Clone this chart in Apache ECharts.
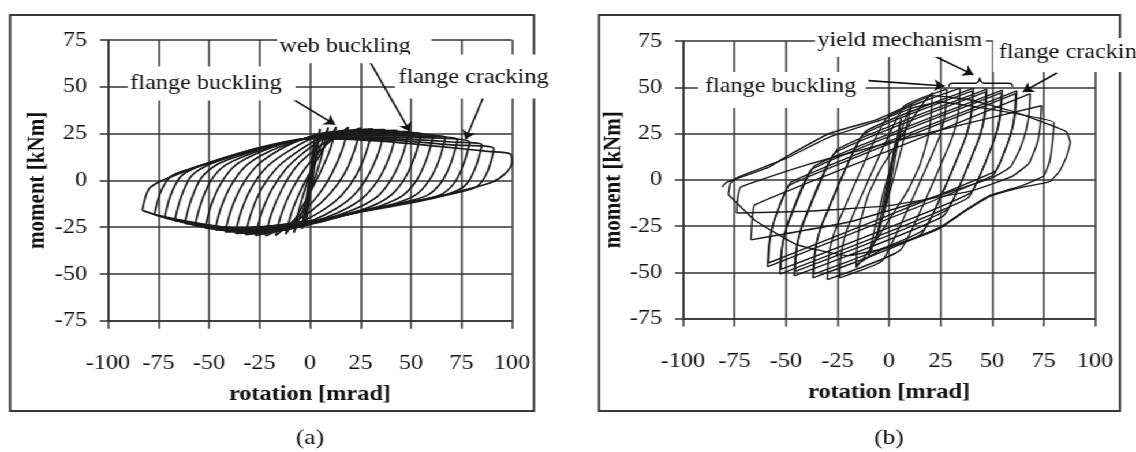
<!DOCTYPE html>
<html>
<head>
<meta charset="utf-8">
<script src="https://cdn.jsdelivr.net/npm/echarts@6/dist/echarts.min.js"></script>
<style>
  html, body { margin: 0; padding: 0; background: #fff; overflow: hidden; }
  #wrap { width: 1136px; height: 452px; overflow: hidden; position: relative; background: #fff; }
  /* the printed figure is slightly wider than tall in its glyphs: stretch the drawing horizontally */
  #chart { width: 984px; height: 452px; transform: scaleX(1.1545); transform-origin: 0 0; }
</style>
</head>
<body>
<div id="wrap"><div id="chart"></div></div>
<script>
// ---------- axes ----------
const rotationTicks = [-100, -75, -50, -25, 0, 25, 50, 75, 100];   // mrad
const momentTicks = [-75, -50, -25, 0, 25, 50, 75];                // kNm

// ---------- specimen (a): hysteresis loops, [rotation mrad, moment kNm] ----------
const loopsA = [
  [[-1,-14],[0,-2],[1,10],[2,20],[1,8],[0,-4],[-1,-14]],
  [[-2,-24],[-1,-10],[0.5,6],[2.5,25],[1.5,10],[0,-8],[-2,-24]],
  [[-4,-26],[-2.5,-14],[-0.5,-1],[2,13],[5,27.5],[3.5,15.5],[1.5,2],[-1,-12],[-4,-26]],
  [[-8,-28],[-5.5,-16],[-2,-3],[3,12],[9,28.3],[6.5,16],[3,3],[-2,-12],[-8,-28]],
  [[-12,-28.8],[-9,-16.8],[-4,-4],[2,8],[8,19.5],[13,28.6],[10,16.6],[5,4],[-1,-8.5],[-7,-20],[-12,-28.8]],
  [[-17,-29.5],[-14,-17.5],[-9,-5],[-2,7],[7,18],[19,28.5],[16,16.5],[11,4],[4,-8],[-6,-19.5],[-17,-29.5]],
  [[-22,-29.7],[-19,-17.5],[-14,-5],[-7,7],[2,16],[12,23],[25,28],[22,16],[17,3.5],[10,-7],[1,-16],[-10,-23.5],[-22,-29.7]],
  [[-27,-29.5],[-24,-17.5],[-19,-5],[-12,6],[-3,15],[8,23],[19,26.5],[31,27.6],[28,15.6],[23,3],[16,-7.5],[7,-15.5],[-4,-22],[-15,-26.5],[-27,-29.5]],
  [[-32,-29],[-29,-17],[-24,-4.5],[-17,6],[-8,14],[3,21.5],[16,26.5],[37,27.2],[34,15.2],[29,3],[22,-7.5],[13,-15],[1,-21.5],[-13,-26.5],[-32,-29]],
  [[-37,-28.3],[-34,-16.3],[-29,-4],[-22,6.5],[-13,14],[0,22],[15,26.3],[30,26.6],[43,26.7],[40,14.7],[35,2.5],[28,-7.5],[19,-14.5],[5,-21],[-12,-26.3],[-25,-27.8],[-37,-28.3]],
  [[-42,-27.5],[-39,-15.5],[-34,-3.5],[-27,7],[-18,14.5],[-5,21.5],[10,25.8],[30,26.3],[49,26],[46,14],[41,2],[34,-8],[24,-14.5],[10,-20],[-8,-25.5],[-25,-27.5],[-42,-27.5]],
  [[-47,-26.5],[-44,-14.5],[-39,-2.5],[-32,7.5],[-22,14.5],[-8,20.5],[10,25.5],[35,25.8],[55,25.2],[52,13.2],[47,1.2],[40,-8],[30,-14],[15,-19],[-5,-24.5],[-30,-27],[-47,-26.5]],
  [[-52,-25.5],[-49,-13.5],[-44,-1.5],[-37,8],[-26,14.5],[-10,20.5],[10,24.5],[40,25],[61,24.2],[58,12.2],[53,0.5],[46,-8],[35,-13.5],[20,-17.8],[0,-23.3],[-30,-26.8],[-52,-25.5]],
  [[-57,-24.3],[-54,-12.3],[-49,0],[-42,8],[-30,14],[-12,20],[10,24.2],[40,24.5],[67,23.2],[64,11.2],[59,0],[52,-8],[40,-13],[22,-17.3],[0,-22.8],[-30,-26.5],[-57,-24.3]],
  [[-62,-23],[-59,-11],[-54,1],[-46,8.5],[-34,13.5],[-15,19.5],[10,23.8],[45,23.8],[73,22],[70,10],[65,-1],[58,-8],[45,-12],[25,-16.5],[0,-22.5],[-30,-26.3],[-62,-23]],
  [[-67,-21.5],[-64,-9.5],[-59,2],[-51,8],[-38,13],[-18,19],[8,23.3],[45,23],[79,20.5],[76,8.5],[71,-2],[64,-8],[50,-11.5],[28,-16],[0,-22],[-35,-25.5],[-67,-21.5]],
  [[-72,-20],[-69,-8],[-64,2],[-56,7],[-42,12],[-20,18.5],[5,23],[45,22],[70,20.5],[85,19],[82,7],[77,-2.5],[69,-7],[55,-10.5],[30,-15.5],[0,-21.8],[-35,-25.5],[-72,-20]],
  [[-77,-18.3],[-74,-6.5],[-69,2],[-60,6],[-46,10.5],[-24,17.5],[2,22.5],[40,21.5],[70,19],[91,17],[88,5],[83,-3],[75,-6],[60,-9.5],[35,-14.5],[5,-21],[-35,-25.5],[-77,-18.3]],
  [[-83,-16],[-80,-5],[-75,-1],[-65,3.5],[-50,9.5],[-25,17.5],[0,22.5],[35,21],[65,18],[88,15.5],[99,14.2],[100,10],[97,4],[90,-1],[75,-5.5],[59,-10],[40,-14],[20,-18],[0,-23.5],[-25,-28],[-50,-25.5],[-70,-20.5],[-83,-16]]
];

// ---------- specimen (b): hysteresis loops, [rotation mrad, moment kNm] ----------
const loopsB = [
  // elastic cycles
  [[-3,-18],[-1,-6],[1,8],[3,20],[1.5,8],[-0.5,-5],[-3,-18]],
  [[-6,-32],[-3.5,-16],[0,2],[3,18],[6,34],[4,18],[1,0],[-2.5,-18],[-6,-32]],
  [[-10,-42],[-7,-27],[-3,-8],[2,12],[7,30],[11,41],[8,26],[4,8],[-1,-12],[-6,-30],[-10,-42]],
  // post-yield cycles
  [[-16,-47.5],[-15.5,-36],[-14,-23],[-10,-8],[-4,6],[4,20],[12,34],[17,42],[21,47],[20.5,36],[19,23],[15,8],[9,-6],[1,-20],[-7,-34],[-12,-42],[-16,-47.5]],
  [[-24,-53],[-23.5,-43],[-22,-33],[-19,-23],[7.1,39.6],[28,49],[27.5,39],[26,29],[23,19],[-3.1,-43.6],[-24,-53]],
  [[-30,-54],[-29.5,-44],[-28,-34],[-25,-24],[-1,33.6],[34.5,49.5],[34,39.5],[32.5,29.5],[29.5,19.5],[5.5,-38],[-30,-54]],
  [[-37,-53],[-36.5,-43],[-35,-33],[-32,-23],[-11.7,25.8],[41,49.5],[40.5,39.5],[39,29.5],[36,19.5],[15.7,-29.3],[-37,-53]],
  [[-36.5,-51],[-36,-41],[-34.5,-31],[-31.5,-21],[-12.7,24.1],[40.5,48],[40,38],[38.5,28],[35.5,18],[16.7,-27.1],[-36.5,-51]],
  [[-46,-52],[-45.5,-42],[-44,-32],[-41,-22],[-25,16.4],[47.5,49],[47,39],[45.5,29],[42.5,19],[26.5,-19.4],[-46,-52]],
  [[-45.5,-49.5],[-45,-39.5],[-43.5,-29.5],[-40.5,-19.5],[-26.3,14.5],[47,47.5],[46.5,37.5],[45,27.5],[42,17.5],[27.8,-16.5],[-45.5,-49.5]],
  [[-53,-51],[-52.5,-41],[-51,-31],[-48,-21],[-36.1,7.5],[55,48.5],[54.5,38.5],[53,28.5],[50,18.5],[38.1,-10],[-53,-51]],
  [[-52.5,-48.5],[-52,-38.5],[-50.5,-28.5],[-47.5,-18.5],[-37.4,5.7],[54.5,47],[54,37],[52.5,27],[49.5,17],[39.4,-7.2],[-52.5,-48.5]],
  [[-59,-47],[-58.5,-37],[-57,-27],[-54,-17],[-47.4,-1.2],[62,48],[61.5,38],[60,28],[57,18],[50.4,2.3],[-59,-47]],
  [[-58.5,-45],[-58,-35],[-56.5,-25],[-53.5,-15],[-48.5,-3],[61.5,46.5],[61,36.5],[59.5,26.5],[56.5,16.5],[51.5,4.5],[-58.5,-45]],
  [[-67,-32.5],[-66.5,-22.5],[-65.2,-13.6],[0,15.7],[68.5,46.5],[68,36.5],[66.5,26.5],[63.5,16.5],[59,7],[50,1],[20,-10],[-20,-23],[-67,-32.5]],
  [[-74,-18],[-73.5,-10],[-72,-4],[-40,8],[0,20],[40,31],[74,40],[73.5,30],[72,20],[68,9],[60,2],[40,-6],[0,-14],[-40,-17],[-74,-18]],
  [[-78,-8],[-77,-2],[-74,1],[-50,11.5],[-29,23],[-6,31.5],[12,39],[25,42],[50,38],[80,31],[79.5,22],[78,10],[75,2],[65,-3],[49,-8.5],[37,-16.5],[25,-25.5],[12,-31.5],[-4,-37.5],[-20,-41],[-45,-35],[-65,-22],[-78,-8]],
  [[-81,-4],[-79,-1.5],[-74,0.5],[-58,7],[-50,12.4],[-29,25],[-6,32.5],[12,41.5],[21,45.5],[40,43],[60,37],[75,31],[86,26],[88,20],[86,12],[83,5],[78,-1],[65,-4],[49,-9],[37,-17],[25,-26],[12,-32],[-4,-38],[-16,-46]]
];

// ---------- annotations (data coordinates) ----------
const arrowsA = [
  [[-11, 45], [12.4, 29.8]],
  [[29, 64.6], [49.5, 26]],
  [[86, 45], [77, 21.8]]
];
const arrowsB = [
  [[-10, 53.6], [27, 50.7]],
  [[15.9, 70.1], [41, 56.7]],
  [[81.5, 57.7], [65, 47.5]]
];
const braceB = [[29,50.2],[29.4,51.6],[31,52.2],[42,52.2],[43.4,53.2],[44,55],[44.6,53.2],[46,52.2],[58,52.2],[59.6,51.6],[60,50.2]];

// label boxes: top-left corner in data coords, padding [top, right, bottom, left] in px
const notesA = [
  { text: 'flange buckling', at: [-90.1, 60.9], pad: [6, 12, 6, 2] },
  { text: 'web buckling',    at: [-16.3, 80.7], pad: [6, 18, 6, 2] },
  { text: 'flange cracking', at: [42.1, 67.3],  pad: [12, 10, 10, 3] }
];
const notesB = [
  { text: 'flange buckling', at: [-92.7, 58.3], pad: [4, 8, 10, 6] },
  { text: 'yield mechanism', at: [-35.9, 84.7], pad: [6, 3, 6, 2] },
  { text: 'flange cracking', at: [50.5, 76.6],  pad: [3, 40, 9, 5] }
];

// ---------- styling ----------
const SERIF = '"Liberation Serif", "Times New Roman", serif';
const INK = '#111';
const GRIDC = '#333';
const FS = 21;

const chart = echarts.init(document.getElementById('chart'), null, { renderer: 'canvas', devicePixelRatio: 1 });

function xAxis(gi, gap) {
  return {
    gridIndex: gi, type: 'value',
    min: rotationTicks[0], max: rotationTicks[rotationTicks.length - 1],
    interval: rotationTicks[1] - rotationTicks[0],
    axisLine: { show: true, onZero: false, lineStyle: { color: GRIDC, width: 1.6 } },
    axisTick: { show: true, inside: false, length: 8, lineStyle: { color: GRIDC, width: 1.5 } },
    axisLabel: { color: INK, fontFamily: SERIF, fontSize: FS, margin: 32 },
    splitLine: { show: true, lineStyle: { color: GRIDC, width: 1.5 } },
    name: 'rotation [mrad]', nameLocation: 'middle', nameGap: gap, nameMoveOverlap: false,
    nameTextStyle: { color: INK, fontFamily: SERIF, fontSize: FS, fontWeight: 'bold' }
  };
}
function yAxis(gi) {
  return {
    gridIndex: gi, type: 'value',
    min: momentTicks[0], max: momentTicks[momentTicks.length - 1],
    interval: momentTicks[1] - momentTicks[0],
    axisLine: { show: true, onZero: false, lineStyle: { color: GRIDC, width: 1.6 } },
    axisTick: { show: true, inside: false, length: 7, lineStyle: { color: GRIDC, width: 1.5 } },
    axisLabel: { color: INK, fontFamily: SERIF, fontSize: FS, margin: 18 },
    splitLine: { show: true, lineStyle: { color: GRIDC, width: 1.5 } },
    name: 'moment [kNm]', nameLocation: 'middle', nameGap: 50, nameMoveOverlap: false,
    nameTextStyle: { color: INK, fontFamily: SERIF, fontSize: FS, fontWeight: 'bold' }
  };
}
function loopSeries(loops, gi, width, smooth) {
  return loops.map(pts => ({
    type: 'line', xAxisIndex: gi, yAxisIndex: gi, data: pts,
    showSymbol: false, symbol: 'none', smooth: smooth, silent: true,
    lineStyle: { color: '#1b1b1b', width: width }, z: 3
  }));
}
function arrowSeries(arrows, gi) {
  return {
    type: 'lines', coordinateSystem: 'cartesian2d', xAxisIndex: gi, yAxisIndex: gi,
    symbol: ['none', 'arrow'], symbolSize: 9, silent: true, z: 6,
    lineStyle: { color: INK, width: 1.6, opacity: 1, curveness: 0 },
    data: arrows.map(c => ({ coords: c }))
  };
}

chart.setOption({
  animation: false,
  backgroundColor: '#fff',
  grid: [
    { left: 93.5, top: 40, width: 350, height: 280.8, outerBoundsMode: 'none' },
    { left: 591.6, top: 41, width: 356.9, height: 277.5, outerBoundsMode: 'none' }
  ],
  xAxis: [xAxis(0, 63), xAxis(1, 64)],
  yAxis: [yAxis(0), yAxis(1)],
  series: [].concat(
    loopSeries(loopsA, 0, 1.7, 0.3),
    loopSeries(loopsB, 1, 1.4, 0.12),
    [arrowSeries(arrowsA, 0), arrowSeries(arrowsB, 1),
     { type: 'line', xAxisIndex: 1, yAxisIndex: 1, data: braceB, showSymbol: false, symbol: 'none',
       smooth: 0.2, silent: true, lineStyle: { color: INK, width: 1.4 }, z: 6 }]
  )
});

// annotation boxes, panel frames and captions
const FONT = FS + 'px ' + SERIF;
function noteGraphics(notes, gi) {
  return notes.map(n => {
    const p = chart.convertToPixel({ gridIndex: gi }, n.at);
    return {
      type: 'text', x: p[0], y: p[1], z: 50, silent: true,
      style: {
        text: n.text, font: FONT, fill: INK, align: 'left', verticalAlign: 'top',
        lineHeight: 22, backgroundColor: '#fff', padding: n.pad
      }
    };
  });
}
const frame = (x, y, w, h) => ({
  type: 'rect', silent: true, z: 1,
  shape: { x: x, y: y, width: w, height: h },
  style: { fill: 'none', stroke: '#3a3a3a', lineWidth: 2 }
});
const caption = (x, t) => ({
  type: 'text', x: x, y: 438, silent: true,
  style: { text: t, font: '22px ' + SERIF, fill: INK, align: 'center', verticalAlign: 'middle' }
});

chart.setOption({
  graphic: [
    frame(8.7, 15, 453.8, 396),
    frame(518.8, 15, 451.3, 396),
    caption(268.5, '(a)'),
    caption(770, '(b)')
  ].concat(noteGraphics(notesA, 0), noteGraphics(notesB, 1))
});
</script>
</body>
</html>
